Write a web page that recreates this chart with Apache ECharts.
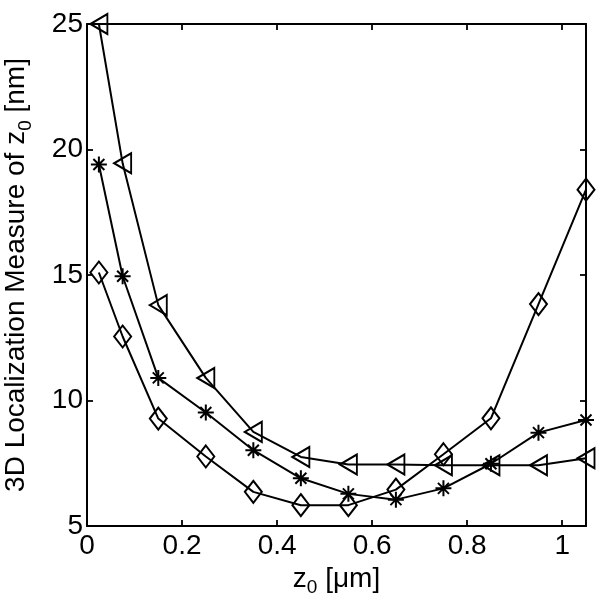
<!DOCTYPE html>
<html>
<head>
<meta charset="utf-8">
<script src="https://cdn.jsdelivr.net/npm/echarts@6/dist/echarts.min.js"></script>
<style>html,body{margin:0;padding:0;background:#fff}#c{width:600px;height:601px}</style>
</head>
<body>
<div id="c"></div>
<script>
const zPositions = [0.025, 0.075, 0.15, 0.25, 0.35, 0.45, 0.55, 0.65, 0.75, 0.85, 0.95, 1.05];
const triangleValues = [25.0, 19.45, 13.8, 10.9, 8.75, 7.75, 7.45, 7.45, 7.42, 7.42, 7.42, 7.7];
const starValues = [19.4, 14.95, 10.9, 9.52, 8.02, 6.9, 6.28, 6.05, 6.5, 7.48, 8.72, 9.22];
const diamondValues = [15.1, 12.55, 9.28, 7.77, 6.36, 5.83, 5.83, 6.45, 7.86, 9.29, 13.84, 18.4];
const xTicks = [0, 0.2, 0.4, 0.6, 0.8, 1];
const yTicks = [5, 10, 15, 20, 25];

const font = 'Liberation Sans, Arial, sans-serif';
function pairs(vals){ return zPositions.map((x,i)=>[x, vals[i]]); }

const chart = echarts.init(document.getElementById('c'), null, {renderer:'canvas'});
const axisCommon = {
  axisLine:{show:true, onZero:false, lineStyle:{color:'#000', width:2}},
  axisTick:{show:true, inside:true, length:6, lineStyle:{color:'#000', width:1.8}},
  splitLine:{show:false}
};
const baseSeries = {
  type:'line', xAxisIndex:0, yAxisIndex:0,
  lineStyle:{color:'#000', width:2},
  itemStyle:{color:'transparent', borderColor:'#000', borderWidth:2},
  symbolKeepAspect:false,
  showAllSymbol:true,
  animation:false, z:3
};
const titleRich = {
  m:{fontFamily:font, fontSize:28, color:'#000'},
  s:{fontFamily:font, fontSize:19, color:'#000', verticalAlign:'bottom', padding:[18,0,0,0]}
};
chart.setOption({
  animation:false,
  backgroundColor:'#fff',
  grid:{left:87, right:14, top:24, bottom:75, containLabel:false, outerBoundsMode:'none'},
  xAxis:[
    Object.assign({}, axisCommon, {
      type:'value', min:0, max:1.05, interval:0.2, position:'bottom',
      axisLabel:{color:'#000', fontFamily:font, fontSize:28, margin:6,
        formatter:v=>{ const t=xTicks.find(k=>Math.abs(k-v)<1e-6); return t===undefined?'':String(t); }},
      name:'{m|z}{s|0}{m| [μm]}', nameLocation:'middle', nameGap:32,
      nameTextStyle:{rich:titleRich}
    }),
    Object.assign({}, axisCommon, {
      type:'value', min:0, max:1.05, interval:0.2, position:'top', axisLabel:{show:false}
    })
  ],
  yAxis:[
    Object.assign({}, axisCommon, {
      type:'value', min:5, max:25, interval:5, position:'left',
      axisLabel:{color:'#000', fontFamily:font, fontSize:28, margin:4,
        formatter:v=>{ const t=yTicks.find(k=>Math.abs(k-v)<1e-6); return t===undefined?'':String(t); }},
      name:'{m|3D Localization Measure of z}{s|0}{m| [nm]}', nameLocation:'middle', nameGap:52, nameRotate:90,
      nameTextStyle:{rich:titleRich}
    }),
    Object.assign({}, axisCommon, {
      type:'value', min:5, max:25, interval:5, position:'right', axisLabel:{show:false}
    })
  ],
  series:[
    Object.assign({}, baseSeries, {
      name:'triangle', data:pairs(triangleValues),
      symbol:'path://M0,10 L17,0 L17,20 Z', symbolSize:[17,20]
    }),
    Object.assign({}, baseSeries, {
      name:'star', data:pairs(starValues),
      symbol:'path://M0,8 L16,8 M8,0 L8,16 M2.5,2.5 L13.5,13.5 M2.5,13.5 L13.5,2.5', symbolSize:[16,16]
    }),
    Object.assign({}, baseSeries, {
      name:'diamond', data:pairs(diamondValues),
      symbol:'diamond', symbolSize:[17,22]
    })
  ]
});
</script>
</body>
</html>
